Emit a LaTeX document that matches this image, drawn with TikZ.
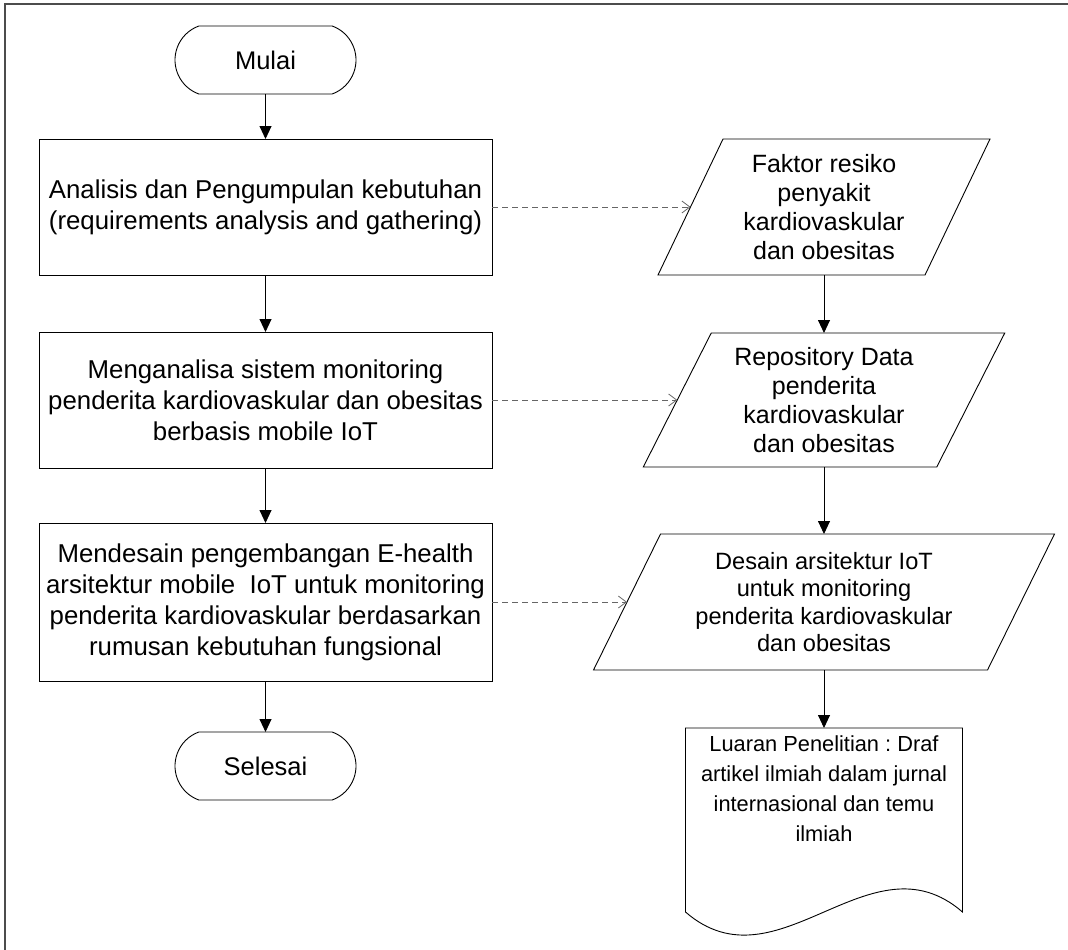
\documentclass[tikz,border=0pt]{standalone}
\usepackage{fontspec}
\setmainfont{Liberation Sans}
\usetikzlibrary{arrows.meta,shapes.misc,calc}
\frenchspacing

\begin{document}
\begin{tikzpicture}[x=1pt,y=-1pt,
  every node/.style={inner sep=0pt, outer sep=0pt},
  term/.style={draw, line width=0.9pt, rounded rectangle, rounded rectangle arc length=140,
    minimum width=181pt, minimum height=68pt, font=\fontsize{25.5}{30}\selectfont},
  procbox/.style={draw, line width=0.9pt, rectangle, minimum width=453pt, align=center,
    font=\fontsize{25.8}{31}\selectfont},
  iobox/.style={align=center, font=\fontsize{25}{29}\selectfont},
  iosmall/.style={align=center, font=\fontsize{23.6}{27.5}\selectfont},
  shapeline/.style={line width=0.9pt, line join=miter},
  flow/.style={line width=0.9pt, -{Triangle[length=13pt,width=12pt]}},
  link/.style={draw=black!60, line width=0.8pt, dash pattern=on 6pt off 4pt,
    -{Straight Barb[length=8pt,width=12pt]}},
  frameline/.style={line width=1.6pt, draw=black!70},
]
\useasboundingbox (0,0) rectangle (1068,950);

% page frame
\draw[frameline] (1068,4) -- (5,4) -- (5,950);

% left column: process
\node[term] (start) at (265.5,60) {Mulai};
\node[procbox, minimum height=136pt] (req) at (265.5,207)
  {Analisis dan Pengumpulan kebutuhan\\(requirements analysis and gathering)};
\node[procbox, minimum height=136pt] (ana) at (265.5,400)
  {Menganalisa sistem monitoring\\penderita kardiovaskular dan obesitas\\berbasis mobile IoT};
\node[procbox, minimum height=158pt] (des) at (265.5,602)
  {Mendesain pengembangan E-health\\arsitektur mobile~ IoT untuk monitoring\\penderita kardiovaskular berdasarkan\\rumusan kebutuhan fungsional};
\node[term] (stop) at (265.5,766) {Selesai};

% right column: data (parallelograms)
\node[iobox, minimum width=267pt, minimum height=136pt] (risk) at (824,207)
  {Faktor resiko\\penyakit\\kardiovaskular\\dan obesitas};
\draw[shapeline] ($(risk.south west)+(-32.5,0)$) -- ($(risk.north west)+(32.5,0)$)
  -- ($(risk.north east)+(32.5,0)$) -- ($(risk.south east)+(-32.5,0)$) -- cycle;

\node[iobox, minimum width=293.5pt, minimum height=134pt] (repo) at (824,400)
  {Repository Data\\penderita\\kardiovaskular\\dan obesitas};
\draw[shapeline] ($(repo.south west)+(-34,0)$) -- ($(repo.north west)+(34,0)$)
  -- ($(repo.north east)+(34,0)$) -- ($(repo.south east)+(-34,0)$) -- cycle;

\node[iosmall, minimum width=394pt, minimum height=136pt] (arch) at (824,602)
  {Desain arsitektur IoT\\untuk monitoring\\penderita kardiovaskular\\dan obesitas};
\draw[shapeline] ($(arch.south west)+(-33.5,0)$) -- ($(arch.north west)+(33.5,0)$)
  -- ($(arch.north east)+(33.5,0)$) -- ($(arch.south east)+(-33.5,0)$) -- cycle;

% output document
\node[minimum width=277pt, anchor=north] (out) at (824,728)
  {\parbox[c][184pt][t]{265pt}{\centering\fontsize{21.8}{30}\selectfont
   \vspace*{8pt}Luaran Penelitian : Draf\\artikel ilmiah dalam jurnal\\internasional dan temu\\ilmiah}};
\draw[shapeline] (out.south west) -- (out.north west) -- (out.north east) -- (out.south east)
  .. controls ($(out.south east)+(-92.3,-80)$) and ($(out.south west)+(92.3,80)$) .. (out.south west);

% main flow
\draw[flow] (start) -- (req);
\draw[flow] (req) -- (ana);
\draw[flow] (ana) -- (des);
\draw[flow] (des) -- (stop);

\draw[flow] (risk.south) -- (repo.north);
\draw[flow] (repo.south) -- (arch.north);
\draw[flow] (arch.south) -- (out.north);

% products of each step
\draw[link] (req.east) -- (risk.west);
\draw[link] (ana.east) -- (repo.west);
\draw[link] (des.east) -- (arch.west);
\end{tikzpicture}
\end{document}
